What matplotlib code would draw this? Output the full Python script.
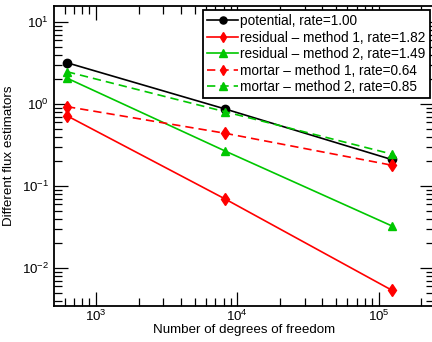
import numpy as np
import matplotlib
matplotlib.use("Agg")
import matplotlib.pyplot as plt

plt.rcParams['font.family'] = ['Liberation Sans', 'DejaVu Sans']
plt.rcParams['mathtext.fontset'] = 'custom'
plt.rcParams['mathtext.rm'] = 'Liberation Sans'

# degrees of freedom on the three meshes
ndof = [624, 8220, 123200]

# estimator values
potential = [3.19, 0.87, 0.211]
residual_1 = [0.72, 0.0694, 0.0054]
residual_2 = [2.07, 0.267, 0.0328]
mortar_1 = [0.93, 0.44, 0.18]
mortar_2 = [2.48, 0.805, 0.246]

labels = ['potential, rate=1.00',
          'residual \u2013 method 1, rate=1.82',
          'residual \u2013 method 2, rate=1.49',
          'mortar \u2013 method 1, rate=0.64',
          'mortar \u2013 method 2, rate=0.85']

green = (0, 0.78, 0)
fs = 9.6
dash = (5, 3)

fig = plt.figure(figsize=(4.32, 3.42), dpi=100)
# right spine sits just past the picture edge, as in the original
ax = fig.add_axes([0.125, 0.105, 0.879, 0.8775])

ax.loglog(ndof, potential, '-o', color='k', ms=6, lw=1.2, label=labels[0])
ax.loglog(ndof, residual_1, '-d', color='r', ms=6, lw=1.2, label=labels[1])
ax.loglog(ndof, residual_2, '-^', color=green, ms=6, lw=1.2, label=labels[2])
ax.loglog(ndof, mortar_1, '--d', color='r', ms=6, lw=1.2, dashes=dash, label=labels[3])
ax.loglog(ndof, mortar_2, '--^', color=green, ms=6, lw=1.2, dashes=dash, label=labels[4])

ax.set_xlim(505, 2.45e5)
ax.set_ylim(0.00344, 15.7)

ax.tick_params(which='both', direction='in', top=True, right=True, labelsize=fs)
ax.tick_params(which='major', length=10, width=0.9)
ax.tick_params(which='minor', length=6, width=0.9)
ax.tick_params(axis='x', which='both', pad=2)
for s in ax.spines.values():
    s.set_linewidth(1.3)

ax.set_xlabel('Number of degrees of freedom', fontsize=fs, labelpad=0)
ax.set_ylabel('Different flux estimators', fontsize=fs, labelpad=5)

leg = ax.legend(loc='upper right', fontsize=9.8, fancybox=False, framealpha=1,
                edgecolor='k', handlelength=2.3, labelspacing=0.18,
                borderpad=0.3, handletextpad=0.15, borderaxespad=0.3,
                markerscale=0.85)
leg.get_frame().set_linewidth(1.3)

fig.savefig('out.png', dpi=100)
